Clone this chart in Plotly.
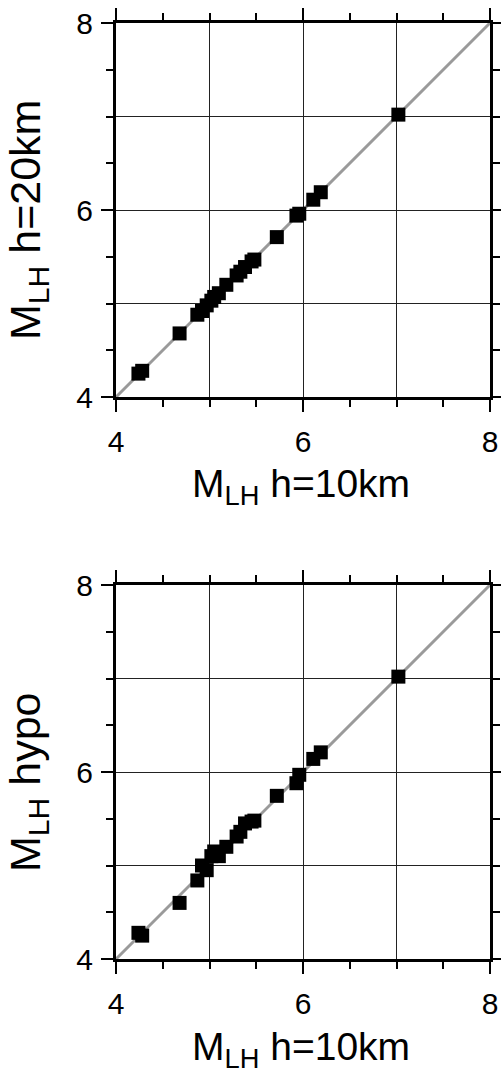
import plotly.graph_objects as go

# ---- data ----
mlh_10km = [4.24, 4.28, 4.68, 4.87, 4.92, 4.97, 5.02, 5.05, 5.10, 5.18, 5.29,
            5.33, 5.38, 5.45, 5.48, 5.72, 5.93, 5.96, 6.11, 6.19, 7.02]
mlh_20km = [4.25, 4.28, 4.68, 4.88, 4.92, 4.98, 5.03, 5.07, 5.11, 5.20, 5.30,
            5.34, 5.39, 5.45, 5.47, 5.71, 5.94, 5.96, 6.11, 6.19, 7.02]
mlh_hypo = [4.28, 4.25, 4.60, 4.84, 5.00, 4.95, 5.10, 5.15, 5.10, 5.20, 5.31,
            5.36, 5.45, 5.47, 5.48, 5.745, 5.88, 5.97, 6.14, 6.21, 7.02]

axis_range = [4, 8]
tick_vals = [4, 6, 8]
tick_text = ["4", "6", "8"]
x_title = "M<sub>LH</sub> h=10km"
y_titles = ["M<sub>LH</sub> h=20km", "M<sub>LH</sub> hypo"]
y_series = [mlh_20km, mlh_hypo]

W, H = 501, 1076
FONT = "Liberation Sans, Arial, Helvetica, sans-serif"

# plot-area pixel boxes (left, right, top, bottom)
boxes = [(116, 490, 23, 397), (116, 490, 585, 959)]

fig = go.Figure()
layout = dict(width=W, height=H, autosize=False,
              margin=dict(l=0, r=0, t=0, b=0, pad=0, autoexpand=False),
              paper_bgcolor="white", plot_bgcolor="white",
              showlegend=False, annotations=[])

for i, (ys, box) in enumerate(zip(y_series, boxes)):
    L, R, T, B = box
    xd = [L / W, R / W]
    yd = [1 - B / H, 1 - T / H]
    n = i + 1
    base_x = "x" if n == 1 else f"x{n}"
    base_y = "y" if n == 1 else f"y{n}"
    ov = n + 2
    # diagonal 1:1 line
    fig.add_trace(go.Scatter(x=axis_range, y=axis_range, mode="lines",
                             line=dict(color="#9a9a9a", width=3),
                             xaxis=base_x, yaxis=base_y, hoverinfo="skip"))
    fig.add_trace(go.Scatter(x=mlh_10km, y=ys, mode="markers",
                             marker=dict(symbol="square", size=14, color="black",
                                         line=dict(width=0)),
                             xaxis=base_x, yaxis=base_y, cliponaxis=False))
    # invisible trace to register overlay axes
    fig.add_trace(go.Scatter(x=mlh_10km, y=ys, mode="markers",
                             marker=dict(opacity=0), hoverinfo="skip",
                             xaxis=f"x{ov}", yaxis=f"y{ov}"))

    grid_common = dict(range=axis_range, dtick=1, tick0=4, showgrid=True,
                       gridcolor="#222222", gridwidth=1, ticks="",
                       showticklabels=False, showline=False, zeroline=False,
                       fixedrange=True, automargin=False)
    layout[f"xaxis{'' if n == 1 else n}"] = dict(domain=xd, anchor=base_y, **grid_common)
    layout[f"yaxis{'' if n == 1 else n}"] = dict(domain=yd, anchor=base_x, **grid_common)

    tick_common = dict(range=axis_range, tickmode="array", tickvals=tick_vals,
                       ticktext=tick_text, ticks="outside", ticklen=12,
                       tickwidth=2, tickcolor="black", showgrid=False,
                       zeroline=False, showline=True, linewidth=3,
                       linecolor="black", mirror="ticks",
                       tickfont=dict(family=FONT, size=30, color="black"),
                       minor=dict(tick0=4, dtick=0.5, ticks="outside",
                                  ticklen=7, tickwidth=2, tickcolor="black",
                                  showgrid=False),
                       fixedrange=True, automargin=False)
    layout[f"xaxis{ov}"] = dict(overlaying=base_x, anchor=base_y, side="bottom",
                                ticklabelstandoff=4, **tick_common)
    layout[f"yaxis{ov}"] = dict(overlaying=base_y, anchor=base_x, side="left",
                                ticklabelstandoff=2, **tick_common)

    # axis titles
    layout["annotations"].append(dict(
        text=x_title, xref="paper", yref="paper",
        x=((L + R) / 2 - 2) / W, y=1 - (B + 90) / H,
        xanchor="center", yanchor="middle", showarrow=False,
        font=dict(family=FONT, size=39, color="black")))
    layout["annotations"].append(dict(
        text=y_titles[i], xref="paper", yref="paper",
        x=28 / W, y=1 - ((T + B) / 2 + 10) / H, textangle=-90,
        xanchor="center", yanchor="middle", showarrow=False,
        font=dict(family=FONT, size=43, color="black")))

fig.update_layout(**layout)
fig.write_html("out.html")
